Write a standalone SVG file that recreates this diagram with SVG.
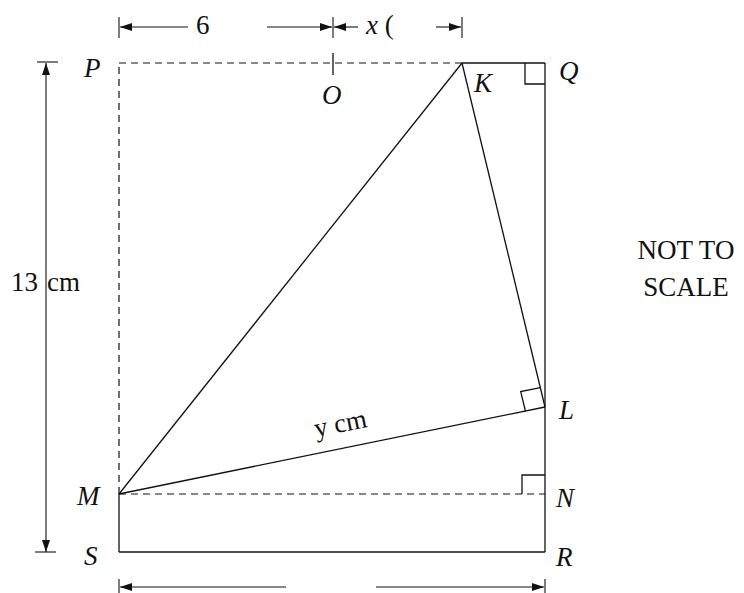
<svg xmlns="http://www.w3.org/2000/svg" width="744" height="593" viewBox="0 0 744 593">
<defs>
<marker id="ah" viewBox="0 0 12 8" refX="12" refY="4" markerWidth="12" markerHeight="8" markerUnits="userSpaceOnUse" orient="auto-start-reverse">
<path d="M0,0 L12,4 L0,8 z" fill="#111"/>
</marker>
<style>
.s{stroke:#111;stroke-width:1.3;fill:none}
.d{stroke:#111;stroke-width:1.2;fill:none;stroke-dasharray:7,5}
.t{font-size:27px;fill:#111}
.i{font-style:italic}
.dim{stroke:#111;stroke-width:1.1;fill:none}
</style>
</defs>
<rect width="744" height="593" fill="#fff"/>
<g id="connectors">
<line class="d" x1="119" y1="63" x2="462" y2="63"/>
<line class="s" x1="462" y1="63" x2="545" y2="63"/>
<line class="s" x1="545" y1="63" x2="545" y2="552"/>
<line class="s" x1="545" y1="552" x2="119" y2="552"/>
<line class="s" x1="119" y1="552" x2="119" y2="494"/>
<line class="d" x1="119" y1="494" x2="119" y2="63"/>
<line class="d" x1="119" y1="494" x2="545" y2="494"/>
<line class="s" x1="119" y1="494" x2="462" y2="63"/>
<line class="s" x1="462" y1="63" x2="545" y2="407"/>
<line class="s" x1="119" y1="494" x2="545" y2="407"/>
<line class="s" x1="333" y1="53" x2="333" y2="75"/>
<path class="s" d="M525,63 V84 H545"/>
<path class="s" d="M522,494 V475 H545"/>
<path class="s" d="M540.3,387.6 L520.7,391.6 L525.4,411"/>
<line class="dim" x1="119" y1="17" x2="119" y2="38"/>
<line class="dim" x1="333" y1="17" x2="333" y2="38"/>
<line class="dim" x1="462" y1="17" x2="462" y2="38"/>
<line class="dim" x1="188" y1="27" x2="120" y2="27" marker-end="url(#ah)"/>
<line class="dim" x1="267" y1="27" x2="332" y2="27" marker-end="url(#ah)"/>
<line class="dim" x1="358" y1="27" x2="334" y2="27" marker-end="url(#ah)"/>
<line class="dim" x1="436" y1="27" x2="461" y2="27" marker-end="url(#ah)"/>
<line class="dim" x1="37" y1="62" x2="58" y2="62"/>
<line class="dim" x1="35" y1="552" x2="56" y2="552"/>
<line class="dim" x1="46" y1="63" x2="46" y2="552" marker-start="url(#ah)" marker-end="url(#ah)"/>
<line class="dim" x1="119" y1="579" x2="119" y2="593"/>
<line class="dim" x1="545" y1="579" x2="545" y2="593"/>
<line class="dim" x1="286" y1="587" x2="120" y2="587" marker-end="url(#ah)"/>
<line class="dim" x1="376" y1="587" x2="544" y2="587" marker-end="url(#ah)"/>
</g>
<g id="labels" font-family="Liberation Serif, Times New Roman, DejaVu Serif, serif">
<text class="t i" x="84" y="77">P</text>
<text class="t i" x="559" y="80">Q</text>
<text class="t i" x="474" y="92">K</text>
<text class="t i" x="322" y="104">O</text>
<text class="t i" x="559" y="419">L</text>
<text class="t i" x="556" y="507">N</text>
<text class="t i" x="556" y="566">R</text>
<text class="t i" x="84" y="565">S</text>
<text class="t i" x="77" y="505">M</text>
<text class="t" x="196" y="34">6</text>
<text class="t" x="366" y="34"><tspan class="i">x</tspan> (</text>
<text class="t" x="11" y="291">13</text>
<text class="t" x="47" y="291">cm</text>
<text class="t" x="342" y="432" text-anchor="middle" transform="rotate(-11.5 342 432)">y cm</text>
<text class="t" x="686" y="259" text-anchor="middle">NOT TO</text>
<text class="t" x="686" y="296" text-anchor="middle">SCALE</text>
</g>
</svg>
